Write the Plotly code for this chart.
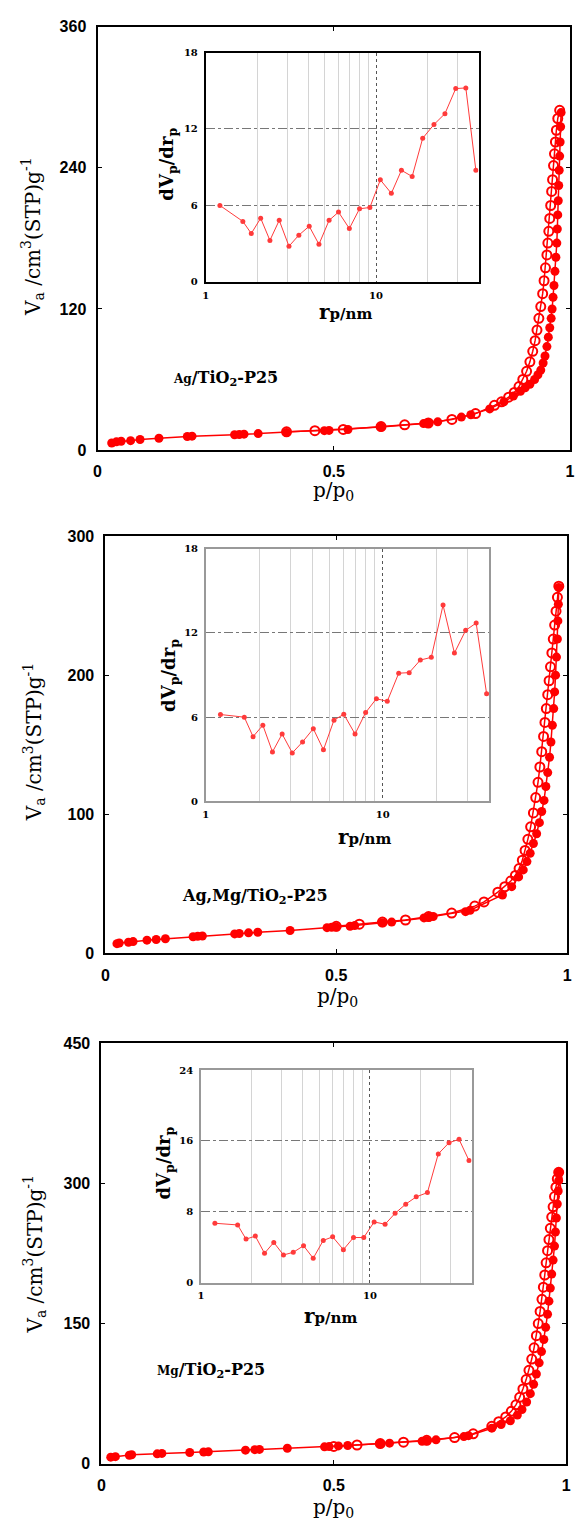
import math
import plotly.graph_objects as go

W, H = 579, 1533

# ---------------- data ----------------
# Panel 1: Ag/TiO2-P25 isotherm (adsorption = filled, desorption = open)
p1_ads = [0.03, 0.04, 0.05, 0.07, 0.09, 0.13, 0.19, 0.20, 0.29, 0.30, 0.31, 0.34, 0.40, 0.48, 0.49, 0.53,
          0.60, 0.69, 0.70, 0.72, 0.77, 0.79, 0.83, 0.86, 0.88,
          0.895, 0.905, 0.915, 0.925, 0.932, 0.938, 0.943, 0.947, 0.951, 0.954, 0.957, 0.960, 0.962, 0.964,
          0.966, 0.968, 0.970, 0.972, 0.973, 0.974, 0.975, 0.976, 0.977, 0.978, 0.979, 0.980, 0.981]
v1_ads = [6, 7, 7.5, 8, 9, 10, 11.5, 11.8, 13, 13.2, 13.5, 14, 15, 16.5, 16.7, 17.5,
          19.5, 22.5, 23, 24, 28, 30, 35, 41, 46,
          50, 53, 56, 60, 64, 68, 74, 80, 88, 96, 104, 112, 120, 130,
          140, 152, 164, 176, 188, 200, 212, 225, 238, 250, 262, 275, 287]
p1_des = [0.978, 0.974, 0.971, 0.969, 0.967, 0.965, 0.963, 0.961, 0.959, 0.957, 0.955, 0.953, 0.951,
          0.948, 0.945, 0.942, 0.938, 0.934, 0.930, 0.926, 0.921, 0.915, 0.908, 0.900, 0.892, 0.882,
          0.870, 0.855, 0.840, 0.800, 0.750, 0.700, 0.650, 0.600, 0.520, 0.460, 0.400]
v1_des = [289, 282, 272, 262, 252, 242, 230, 220, 208, 197, 186, 176, 166,
          155, 144, 133, 122, 112, 102, 93, 84, 75, 67, 60, 54, 49,
          45, 41, 38, 31, 26, 23, 21.5, 20, 17.5, 16.5, 15.5]

# Panel 2: Ag,Mg/TiO2-P25 isotherm
p2_ads = [0.025, 0.03, 0.05, 0.06, 0.09, 0.11, 0.13, 0.19, 0.20, 0.21, 0.28, 0.29, 0.31, 0.33, 0.40, 0.48,
          0.49, 0.50, 0.53, 0.54, 0.60, 0.62, 0.69, 0.70, 0.71, 0.78, 0.79,
          0.86, 0.88, 0.895, 0.905, 0.913, 0.920, 0.927, 0.934, 0.940, 0.945, 0.950, 0.954, 0.958, 0.962,
          0.965, 0.968, 0.971, 0.973, 0.975, 0.977, 0.979, 0.980, 0.981, 0.982]
v2_ads = [7, 7.5, 8, 8.5, 9.5, 10, 10.5, 12, 12.3, 12.5, 14, 14.3, 14.8, 15.2, 16.5, 18.5,
          18.8, 19, 19.5, 20, 22, 22.5, 25.5, 26, 26.5, 30, 31,
          42, 48, 55, 60, 66, 72, 79, 86, 94, 102, 110, 120, 130, 141,
          152, 164, 176, 188, 200, 213, 226, 239, 251, 263]
p2_des = [0.982, 0.979, 0.976, 0.973, 0.970, 0.967, 0.964, 0.961, 0.958, 0.955, 0.952, 0.949, 0.945,
          0.941, 0.937, 0.932, 0.927, 0.921, 0.915, 0.909, 0.903, 0.896, 0.888, 0.878, 0.865, 0.850,
          0.820, 0.800, 0.750, 0.700, 0.650, 0.600, 0.550, 0.500]
v2_des = [264, 256, 246, 236, 226, 216, 206, 196, 186, 176, 166, 156, 145,
          134, 123, 112, 101, 91, 82, 74, 67, 61, 56, 52, 48, 44,
          37, 34, 29, 26.5, 24, 22.5, 21, 19.5]

# Panel 3: Mg/TiO2-P25 isotherm
p3_ads = [0.02, 0.03, 0.06, 0.065, 0.12, 0.13, 0.19, 0.22, 0.23, 0.31, 0.33, 0.34, 0.40, 0.48, 0.49, 0.51,
          0.53, 0.60, 0.62, 0.69, 0.70, 0.72, 0.78, 0.79, 0.84,
          0.86, 0.88, 0.895, 0.905, 0.915, 0.923, 0.930, 0.936, 0.942, 0.947, 0.952, 0.956, 0.960, 0.963,
          0.966, 0.969, 0.972, 0.975, 0.977, 0.979, 0.981, 0.983, 0.984, 0.985]
v3_ads = [7, 7.5, 9, 9.5, 10.5, 11, 12, 12.5, 12.7, 14.5, 15, 15.3, 16.5, 18, 18.3, 19,
          19.5, 21.5, 22, 24, 24.5, 25.5, 29, 30, 38,
          42, 46, 52, 58, 66, 75, 85, 96, 108, 120, 133, 146, 160, 174,
          188, 203, 218, 233, 248, 263, 278, 292, 303, 312]
p3_des = [0.984, 0.981, 0.978, 0.975, 0.972, 0.969, 0.966, 0.963, 0.960, 0.957, 0.954, 0.951, 0.948,
          0.944, 0.940, 0.936, 0.931, 0.926, 0.920, 0.914, 0.907, 0.900, 0.892, 0.882, 0.870, 0.855,
          0.840, 0.800, 0.760, 0.700, 0.650, 0.600, 0.550, 0.500]
v3_des = [312, 305, 296, 286, 275, 264, 252, 240, 228, 215, 202, 189, 176,
          163, 150, 137, 124, 112, 100, 90, 80, 71, 63, 56, 50, 45,
          40, 32, 28, 25, 23, 21.5, 20, 18.5]

# Pore size distributions (insets)
r_p = [1.21, 1.65, 1.85, 2.10, 2.38, 2.70, 3.08, 3.52, 4.05, 4.62, 5.30, 6.02, 6.97,
       8.0, 9.2, 10.6, 12.3, 14.1, 16.3, 18.8, 21.9, 25.4, 29.4, 33.7, 38.6]
dv1 = [6.0, 4.75, 3.8, 5.0, 3.26, 4.83, 2.8, 3.67, 4.37, 2.95, 4.83, 5.48, 4.19,
       5.74, 5.84, 8.01, 6.95, 8.76, 8.27, 11.27, 12.35, 13.2, 15.17, 15.22, 8.76]
dv2 = [6.18, 5.99, 4.6, 5.42, 3.51, 4.79, 3.44, 4.22, 5.17, 3.66, 5.78, 6.2, 4.79,
       6.32, 7.31, 7.12, 9.13, 9.17, 10.07, 10.26, 13.99, 10.57, 12.19, 12.71, 7.67]
dv3 = [6.71, 6.52, 4.92, 5.26, 3.32, 4.55, 3.13, 3.43, 4.17, 2.76, 4.77, 5.18, 3.73,
       5.1, 5.1, 6.86, 6.6, 7.83, 8.87, 9.69, 10.17, 14.54, 15.8, 16.18, 13.79]

main_yticks = [[0, 120, 240, 360], [0, 100, 200, 300], [0, 150, 300, 450]]
inset_yticks = [[0, 6, 12, 18], [0, 6, 12, 18], [0, 8, 16, 24]]
sample_labels = ['<span style="font-size:12px">Ag</span>/TiO<sub>2</sub>-P25',
                 'Ag,Mg/TiO<sub>2</sub>-P25',
                 '<span style="font-size:12px">Mg</span>/TiO<sub>2</sub>-P25']

# ---------------- layout geometry (pixels) ----------------
geo = [
    dict(main=(95, 575, 19, 447), inset=(205, 482, 45, 277), inset_frame=("black", 2),
         xt=(335, 488), yt=(29, 231), ixt=(347, 307), iyt=(167, 158), lab=(225, 375)),
    dict(main=(103, 572, 534, 956), inset=(205, 493, 547, 802), inset_frame=("#999999", 1.5),
         xt=(339, 1000), yt=(31, 742), ixt=(366, 838), iyt=(168, 675), lab=(255, 898)),
    dict(main=(99, 571, 1047, 1472), inset=(200, 475, 1074, 1289), inset_frame=("#999999", 1.5),
         xt=(335, 1517), yt=(31, 1260), ixt=(332, 1323), iyt=(164, 1168), lab=(210, 1378)),
]


def xd(a, b):
    return [a / W, b / W]


def yd(top, bot):
    return [1 - bot / H, 1 - top / H]


iso = [(p1_ads, v1_ads, p1_des, v1_des), (p2_ads, v2_ads, p2_des, v2_des), (p3_ads, v3_ads, p3_des, v3_des)]
psd = [dv1, dv2, dv3]

RED = "#ff0000"
SERIF = "DejaVu Serif"
SANS = "Liberation Sans"

fig = go.Figure()
layout = dict(width=W, height=H, margin=dict(l=0, r=0, t=0, b=0),
              paper_bgcolor="white", plot_bgcolor="white", showlegend=False)
annotations = []


def ann(pos, text, size, angle=0, bold=False):
    annotations.append(dict(x=pos[0] / W, y=1 - pos[1] / H, xref="paper", yref="paper",
                            text=text, showarrow=False, textangle=angle,
                            xanchor="center", yanchor="middle",
                            font=dict(family=SERIF, size=size, color="black",
                                      weight="bold" if bold else "normal")))


for i in range(3):
    g = geo[i]
    mx = 2 * i + 1
    ix = 2 * i + 2
    mxn = "xaxis" if mx == 1 else f"xaxis{mx}"
    myn = "yaxis" if mx == 1 else f"yaxis{mx}"
    mxr = "x" if mx == 1 else f"x{mx}"
    myr = "y" if mx == 1 else f"y{mx}"
    ixn, iyn = f"xaxis{ix}", f"yaxis{ix}"
    ixr, iyr = f"x{ix}", f"y{ix}"

    pa, va, pd_, vd = iso[i]
    fig.add_trace(go.Scatter(x=pd_, y=vd, mode="lines+markers", xaxis=mxr, yaxis=myr,
                             line=dict(color=RED, width=1.5),
                             marker=dict(symbol="circle-open", size=9, color=RED, line=dict(width=2))))
    fig.add_trace(go.Scatter(x=pa, y=va, mode="lines+markers", xaxis=mxr, yaxis=myr,
                             line=dict(color=RED, width=1.5),
                             marker=dict(symbol="circle", size=9, color=RED)))
    fig.add_trace(go.Scatter(x=r_p, y=psd[i], mode="lines+markers", xaxis=ixr, yaxis=iyr,
                             line=dict(color="#ff3b3b", width=1),
                             marker=dict(symbol="circle", size=5, color="#ff3b3b")))

    x0, x1, y0, y1 = g["main"]
    yt = main_yticks[i]
    common_main = dict(ticks="inside", ticklen=4, tickcolor="black",
                       showline=True, linecolor="black", linewidth=2, mirror="ticks",
                       showgrid=False, zeroline=False, ticklabelstandoff=6,
                       tickfont=dict(family=SANS, size=16, color="black", weight="bold"))
    layout[mxn] = dict(domain=xd(x0, x1), anchor=myr, range=[0, 1],
                       tickvals=[0, 0.5, 1], ticktext=["0", "0.5", "1"], **common_main)
    layout[myn] = dict(domain=yd(y0, y1), anchor=mxr, range=[yt[0], yt[-1]],
                       tickvals=yt, **common_main)

    a0, a1, b0, b1 = g["inset"]
    fc, fw = g["inset_frame"]
    it = inset_yticks[i]
    layout[ixn] = dict(domain=xd(a0, a1), anchor=iyr, type="log", range=[0, math.log10(40)],
                       tickvals=[1, 10], ticktext=["1", "10"], ticks="",
                       showline=True, linecolor=fc, linewidth=fw, mirror=True,
                       showgrid=True, gridcolor="#555555", griddash="dot", gridwidth=1,
                       minor=dict(tickvals=[2, 3, 4, 5, 6, 7, 8, 9, 20, 30], showgrid=True,
                                  gridcolor="#d4d4d4", gridwidth=1, griddash="solid", ticks=""),
                       zeroline=False, ticklabelstandoff=3,
                       tickfont=dict(family=SERIF, size=10, color="black", weight="bold"))
    layout[iyn] = dict(domain=yd(b0, b1), anchor=ixr, range=[it[0], it[-1]],
                       tickvals=it, ticks="",
                       showline=True, linecolor=fc, linewidth=fw, mirror=True,
                       showgrid=True, gridcolor="#777777", griddash="dashdot", gridwidth=1,
                       zeroline=False, ticklabelstandoff=4,
                       tickfont=dict(family=SERIF, size=10, color="black", weight="bold"))

    ann(g["xt"], "p/p<sub>0</sub>", 20)
    ann(g["yt"], "V<sub>a</sub> /cm<sup>3</sup>(STP)g<sup>-1</sup>", 20, angle=-90)
    ann(g["ixt"], '<span style="font-size:20px">r</span>p/nm', 15, bold=True)
    ann(g["iyt"], "dV<sub>p</sub>/dr<sub>p</sub>", 18, angle=-90, bold=True)
    ann(g["lab"], sample_labels[i], 16, bold=True)

layout["annotations"] = annotations
fig.update_layout(**layout)
fig.write_html("out.html")
